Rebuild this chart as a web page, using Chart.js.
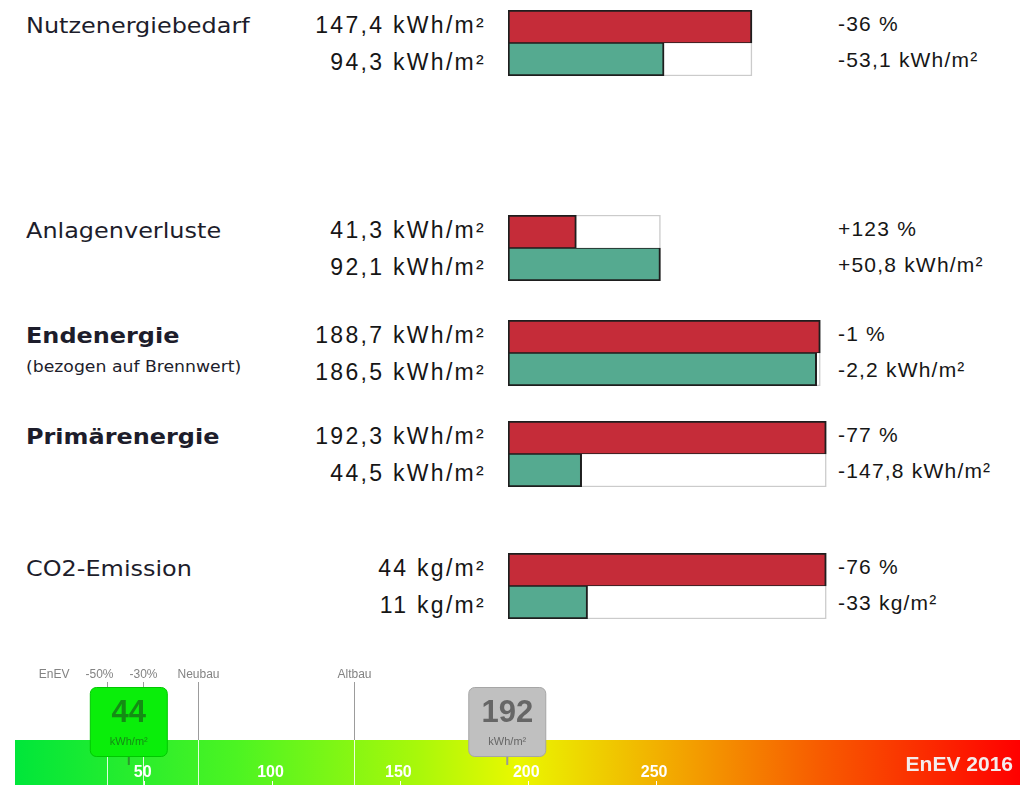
<!DOCTYPE html>
<html lang="de">
<head>
<meta charset="utf-8">
<title>Energiebilanz</title>
<script src="https://cdn.jsdelivr.net/npm/chart.js@4.4.1/dist/chart.umd.min.js"></script>
<style>
  html, body { margin: 0; padding: 0; background: #fff; }
  body { width: 1020px; height: 785px; position: relative; overflow: hidden; }
  .pos { position: absolute; white-space: nowrap; }
  .titel { font-family: "DejaVu Sans"; font-size: 21px; line-height: 24px; color: #1d1d2b;
           transform: scaleX(1.14); transform-origin: 0 50%; }
  .titel.fett { font-weight: bold; }
  .sub { font-family: "DejaVu Sans"; font-size: 15px; line-height: 18px; color: #1d1d2b;
         transform: scaleX(1.15); transform-origin: 0 50%; }
  .wert { font-family: "Liberation Sans"; font-size: 23px; line-height: 26px; letter-spacing: 2.3px;
          color: #161616; text-align: right; }
  .delta { font-family: "Liberation Sans"; font-size: 21px; line-height: 24px; letter-spacing: 1.2px;
           color: #161616; }
  canvas { position: absolute; }
</style>
</head>
<body>
<canvas id="skala" width="1005" height="125" style="left:15px;top:660px"></canvas>
<script>
// Kennwerte: Ist-Zustand (rot) und nach Sanierung (grün)
const kategorien = ['Nutzenergiebedarf', 'Anlagenverluste', 'Endenergie', 'Primärenergie', 'CO2-Emission'];
const untertitel = ['', '', '(bezogen auf Brennwert)', '', ''];
const fettgedruckt = [false, false, true, true, false];
const einheiten = ['kWh/m²', 'kWh/m²', 'kWh/m²', 'kWh/m²', 'kg/m²'];
const nachkommastellen = [1, 1, 1, 1, 0];
const istWerte = [147.4, 41.3, 188.7, 192.3, 44];
const neuWerte = [94.3, 92.1, 186.5, 44.5, 11];
const aenderungProzent = [-36, 123, -1, -77, -76];
const aenderungAbsolut = [-53.1, 50.8, -2.2, -147.8, -33];

// EnEV-Skala (Primärenergie in kWh/m²)
const skalaTicks = [50, 100, 150, 200, 250];
const skalaMin = -0.5, skalaMax = 392.5;
const referenzLabels = ['-50%', '-30%', 'Neubau', 'Altbau'];
const referenzWerte = [35.5, 49.7, 71, 132];
const markerWerte = [44, 192];

// Layout
const gruppenOben = [10, 215, 320, 421, 553];
const balkenLinks = 508, balkenBreite = 331, balkenHoehe = 66;
const kwhAchseMax = 200;
const FARBE_IST = '#c52c39', FARBE_NEU = '#55aa90';

const fmt = (v, d) => v.toLocaleString('de-DE', { minimumFractionDigits: d, maximumFractionDigits: d });
const mitVorzeichen = (v, d) => (v > 0 ? '+' : '') + fmt(v, d);

function textElement(cls, text, style) {
  const el = document.createElement('div');
  el.className = 'pos ' + cls;
  el.textContent = text;
  Object.assign(el.style, style);
  document.body.appendChild(el);
  return el;
}

kategorien.forEach((name, i) => {
  const top = gruppenOben[i];
  const d = nachkommastellen[i];
  const einheit = einheiten[i];

  textElement('titel' + (fettgedruckt[i] ? ' fett' : ''), name, { left: '26px', top: (top + 15.5 - 11.6) + 'px' });
  if (untertitel[i]) {
    textElement('sub', untertitel[i], { left: '26px', top: (top + 47 - 8.8) + 'px' });
  }

  textElement('wert', fmt(istWerte[i], d) + ' ' + einheit, { right: '534px', top: (top + 15 - 12.8) + 'px' });
  textElement('wert', fmt(neuWerte[i], d) + ' ' + einheit, { right: '534px', top: (top + 52 - 12.8) + 'px' });

  textElement('delta', mitVorzeichen(aenderungProzent[i], 0) + ' %', { left: '838px', top: (top + 13.5 - 11.8) + 'px' });
  textElement('delta', mitVorzeichen(aenderungAbsolut[i], d) + ' ' + einheit, { left: '838px', top: (top + 50 - 11.8) + 'px' });

  // Balkenpaar
  const canvas = document.createElement('canvas');
  canvas.width = balkenBreite;
  canvas.height = balkenHoehe;
  canvas.style.left = balkenLinks + 'px';
  canvas.style.top = top + 'px';
  document.body.appendChild(canvas);

  const ist = istWerte[i], neu = neuWerte[i];
  const rahmen = Math.max(ist, neu);
  // CO2 wird auf die Breite des Primärenergie-Balkens bezogen
  const achseMax = einheit === 'kg/m²' ? ist * kwhAchseMax / istWerte[3] : kwhAchseMax;

  new Chart(canvas, {
    type: 'bar',
    data: {
      labels: ['Ist', 'Neu'],
      datasets: [
        {
          data: [ist, neu],
          backgroundColor: [FARBE_IST, FARBE_NEU],
          borderColor: '#1e1e1e',
          borderWidth: c => c.dataIndex === 0
            ? { top: 2, left: 2, right: 2, bottom: 1 }
            : { top: 1, left: 2, right: 2, bottom: 2 },
          borderSkipped: false,
          grouped: false,
          order: 0,
          barPercentage: 1,
          categoryPercentage: 1
        },
        {
          data: [rahmen, rahmen],
          backgroundColor: '#ffffff',
          borderColor: '#cbcbcb',
          borderWidth: c => c.dataIndex === 0
            ? { top: 1.5, left: 1.5, right: 1.5, bottom: 0 }
            : { top: 0, left: 1.5, right: 1.5, bottom: 1.5 },
          borderSkipped: false,
          grouped: false,
          order: 1,
          barPercentage: 1,
          categoryPercentage: 1
        }
      ]
    },
    options: {
      indexAxis: 'y',
      responsive: false,
      animation: false,
      events: [],
      layout: { padding: 0 },
      plugins: { legend: { display: false }, tooltip: { enabled: false } },
      scales: {
        x: { display: false, min: 0, max: achseMax },
        y: { display: false }
      }
    }
  });
});

// Farbskala mit Referenzlinien und Markern
const skalaPlugin = {
  id: 'enevSkala',
  beforeDatasetsDraw(chart) {
    const { ctx, chartArea, scales: { x } } = chart;
    const bandOben = 80, bandUnten = chartArea.bottom;
    ctx.save();
    const g = ctx.createLinearGradient(chartArea.left, 0, chartArea.right, 0);
    g.addColorStop(0.00, '#00e63a');
    g.addColorStop(0.22, '#4cf422');
    g.addColorStop(0.40, '#a8f80a');
    g.addColorStop(0.50, '#eaf800');
    g.addColorStop(0.64, '#f2b000');
    g.addColorStop(0.80, '#f75c00');
    g.addColorStop(1.00, '#ff0000');
    ctx.fillStyle = g;
    ctx.fillRect(chartArea.left, bandOben, chartArea.right - chartArea.left, bandUnten - bandOben);

    // Referenzlinien
    referenzWerte.forEach((v, i) => {
      const px = Math.round(x.getPixelForValue(v)) + 0.5;
      ctx.strokeStyle = '#9c9c9c';
      ctx.lineWidth = 1;
      ctx.beginPath(); ctx.moveTo(px, 22); ctx.lineTo(px, bandOben); ctx.stroke();
      ctx.strokeStyle = 'rgba(255,255,255,0.85)';
      ctx.beginPath(); ctx.moveTo(px, bandOben); ctx.lineTo(px, bandUnten); ctx.stroke();

      ctx.font = '12px "Liberation Sans"';
      ctx.fillStyle = '#838383';
      ctx.textBaseline = 'middle';
      if (i === 0) {
        ctx.textAlign = 'right';
        ctx.fillText(referenzLabels[i], px + 6, 15);
        ctx.fillText('EnEV', px - 38, 15);
      } else {
        ctx.textAlign = 'center';
        ctx.fillText(referenzLabels[i], px, 15);
      }
    });

    // Skalenbeschriftung
    ctx.fillStyle = '#ffffff';
    ctx.strokeStyle = '#ffffff';
    ctx.font = 'bold 16px "Liberation Sans"';
    ctx.textAlign = 'center';
    ctx.textBaseline = 'middle';
    skalaTicks.forEach(v => {
      const px = x.getPixelForValue(v);
      ctx.fillText(String(v), px - 1.5, 113);
      ctx.beginPath(); ctx.moveTo(Math.round(px) + 0.5, bandUnten - 4); ctx.lineTo(Math.round(px) + 0.5, bandUnten); ctx.stroke();
    });

    ctx.fillStyle = '#f4ecec';
    ctx.font = 'bold 21px "Liberation Sans"';
    ctx.textAlign = 'right';
    ctx.fillText('EnEV 2016', chartArea.right - 7, 105);
    ctx.restore();
  },
  afterDatasetsDraw(chart) {
    const { ctx } = chart;
    const stile = [
      { fill: '#0aee0a', rand: '#00c800', text: '#148c14', zeiger: '#2d962d' },
      { fill: '#c0c0c0', rand: '#a6a6a6', text: '#666666', zeiger: '#999999' }
    ];
    const punkte = chart.getDatasetMeta(0).data;
    ctx.save();
    punkte.forEach((p, i) => {
      const s = stile[i];
      const cx = p.x, w = 78, h = 70, oben = 27;
      ctx.strokeStyle = s.zeiger;
      ctx.lineWidth = 2;
      ctx.beginPath(); ctx.moveTo(cx, oben + h); ctx.lineTo(cx, oben + h + 8); ctx.stroke();

      ctx.beginPath();
      ctx.roundRect(cx - w / 2 + 0.5, oben + 0.5, w - 1, h - 1, 6);
      ctx.fillStyle = s.fill;
      ctx.fill();
      ctx.lineWidth = 1;
      ctx.strokeStyle = s.rand;
      ctx.stroke();

      ctx.fillStyle = s.text;
      ctx.textAlign = 'center';
      ctx.textBaseline = 'middle';
      ctx.font = 'bold 31px "Liberation Sans"';
      ctx.fillText(String(markerWerte[i]), cx, 53);
      ctx.font = '11px "Liberation Sans"';
      ctx.fillText('kWh/m²', cx, 82);
    });
    ctx.restore();
  }
};

new Chart(document.getElementById('skala'), {
  type: 'scatter',
  data: { datasets: [{ data: markerWerte.map(v => ({ x: v, y: 0.5 })), pointRadius: 0 }] },
  options: {
    responsive: false,
    animation: false,
    events: [],
    layout: { padding: 0 },
    plugins: { legend: { display: false }, tooltip: { enabled: false } },
    scales: {
      x: { type: 'linear', display: false, min: skalaMin, max: skalaMax },
      y: { display: false, min: 0, max: 1 }
    }
  },
  plugins: [skalaPlugin]
});
</script>
</body>
</html>
